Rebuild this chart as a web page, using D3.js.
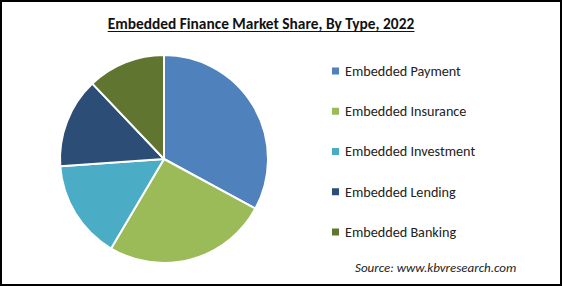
<!DOCTYPE html>
<html><head><meta charset="utf-8">
<script src="https://cdn.jsdelivr.net/npm/d3@7"></script>
<style>html,body{margin:0;padding:0;background:#fff;}svg{display:block;}</style>
</head><body>
<script>
const categories = ["Embedded Payment","Embedded Insurance","Embedded Investment","Embedded Lending","Embedded Banking"];
const values = [32.9, 25.6, 15.4, 14.0, 12.1];
const colors = ["#4f81bd","#9bbb59","#4bacc6","#2c4d75","#5f7530"];
const title = "Embedded Finance Market Share, By Type, 2022";
const source = "Source:  www.kbvresearch.com";

const W = 562, H = 286;
const svg = d3.select("body").append("svg").attr("width", W).attr("height", H);
svg.append("rect").attr("x",1).attr("y",1).attr("width",W-2).attr("height",H-2)
  .attr("fill","#fff").attr("stroke","#000").attr("stroke-width",2);

const fam = "Carlito, 'Open Sans', 'Liberation Sans', sans-serif";
const t = svg.append("text").attr("x", 261).attr("y", 29).attr("text-anchor","middle")
  .attr("font-family", fam).attr("font-weight","bold").attr("font-size",15.4)
  .attr("fill","#111").text(title);
const bb = t.node().getBBox();
svg.append("line").attr("x1",bb.x).attr("x2",bb.x+bb.width).attr("y1",31.5).attr("y2",31.5)
  .attr("stroke","#111").attr("stroke-width",1.2);

const pie = d3.pie().sort(null).value(d => d)(values);
const arc = d3.arc().innerRadius(0).outerRadius(104);
svg.append("g").attr("transform","translate(164,159)")
  .selectAll("path").data(pie).join("path")
  .attr("d", arc).attr("fill",(d,i)=>colors[i])
  .attr("stroke","#fff").attr("stroke-width",2).attr("stroke-linejoin","round");

const y = d3.scalePoint().domain(categories).range([71, 232]);
const lg = svg.append("g").selectAll("g").data(categories).join("g")
  .attr("transform", d => `translate(0,${y(d)})`);
lg.append("rect").attr("x",332).attr("y",-3.5).attr("width",7).attr("height",7)
  .attr("fill",(d,i)=>colors[i]);
lg.append("text").attr("x",345).attr("y",0).attr("dy","0.35em")
  .attr("font-family",fam).attr("font-size",14.2).attr("fill","#222").text(d=>d);

svg.append("text").attr("x",355).attr("y",272).attr("font-family",fam)
  .attr("font-style","italic").attr("font-size",13).attr("fill","#222").text(source);
</script>
</body></html>
